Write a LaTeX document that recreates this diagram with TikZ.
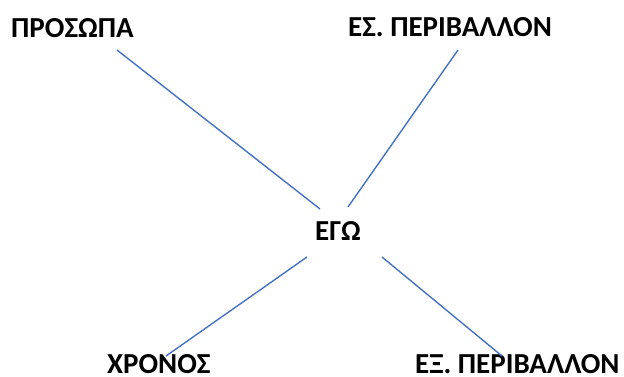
\documentclass[tikz,border=0pt]{standalone}
\usepackage{fontspec}
\setmainfont{Carlito}
\definecolor{linkblue}{HTML}{4472C4}
\begin{document}
\begin{tikzpicture}[x=1pt,y=-1pt,
  lbl/.style={font=\fontsize{29}{33}\selectfont\bfseries, inner sep=0pt, anchor=base west},
  link/.style={draw=linkblue, line width=1.4pt}]
\useasboundingbox (0,0) rectangle (624,376);
\node[lbl] (pros) at (11,37) {ΠΡΟΣΩΠΑ};
\node[lbl] (esp) at (348,36) {ΕΣ. ΠΕΡΙΒΑΛΛΟΝ};
\node[lbl] (ego) at (315,240) {ΕΓΩ};
\node[lbl] (xron) at (107,373) {ΧΡΟΝΟΣ};
\node[lbl] (exp) at (415,373) {ΕΞ. ΠΕΡΙΒΑΛΛΟΝ};
\coordinate (a1) at (117,50);  \coordinate (b1) at (320,209);
\coordinate (a2) at (458,50);  \coordinate (b2) at (348,207);
\coordinate (a3) at (166,356); \coordinate (b3) at (307,257);
\coordinate (a4) at (502,356); \coordinate (b4) at (382,257);
\draw[link] (a1) -- (b1);
\draw[link] (a2) -- (b2);
\draw[link] (a3) -- (b3);
\draw[link] (a4) -- (b4);
\end{tikzpicture}
\end{document}
